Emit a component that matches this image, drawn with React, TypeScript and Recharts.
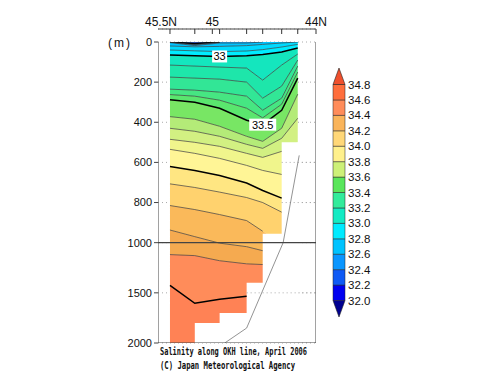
import React from "react";
import {
  ComposedChart,
  Area,
  Line,
  XAxis,
  YAxis,
  CartesianGrid,
  LabelList,
  BarChart,
  Bar,
} from "recharts";

// stations along the OKH line, km from 45.5N
const stationKm = [0, 34, 68, 105, 127, 153, 175];
// deepest observed depth (m) right of each station
const bottomDepth = [2000, 1800, 1700, 1400, 955, 500, 500];

// top axis
const latTickKm = [0, 58, 200];
const latTickLabel = ["45.5N", "45", "44N"];

// depth axis
const depthTicks = [0, 200, 400, 600, 800, 1000, 1500, 2000];
const gridDepths = [200, 400, 600, 800, 1500];

// isohaline depths (m) at each station
const levels = [
  32.4, 32.5, 32.6, 32.7, 32.8, 32.9, 33.0, 33.1, 33.2, 33.3, 33.4,
  33.5, 33.6, 33.7, 33.8, 33.9, 34.0, 34.1, 34.2, 34.3, 34.4, 34.5,
];
const s324 = [0, 5, 0, 0, 0, 0, 0];
const s325 = [0, 9, 0, 0, 0, 0, 0];
const s326 = [0, 14, 0, 0, 0, 0, 0];
const s327 = [3, 18, 5, 5, 0, 0, 0];
const s328 = [20, 24, 22, 18, 12, 5, 0];
const s329 = [40, 44, 48, 45, 38, 25, 12];
const s330 = [65, 68, 72, 68, 62, 50, 30];
const s331 = [115, 120, 125, 130, 190, 115, 60];
const s332 = [175, 180, 185, 200, 280, 220, 90];
const s333 = [235, 240, 250, 270, 340, 280, 120];
const s334 = [262, 270, 290, 330, 378, 310, 150];
const s335 = [288, 300, 330, 390, 412, 340, 180];
const s336 = [372, 385, 420, 470, 495, 430, 260];
const s337 = [430, 445, 470, 510, 530, 480, 380];
const s338 = [485, 500, 520, 555, 575, 545, 560];
const s339 = [535, 555, 580, 615, 640, 660, 620];
const s340 = [620, 640, 665, 703, 740, 778, 800];
const s341 = [707, 725, 748, 775, 800, 848, 870];
const s342 = [815, 835, 860, 890, 943, 1000, 1050];
const s343 = [937, 970, 1005, 1040, 1080, 1150, 1200];
const s344 = [1119, 1129, 1180, 1211, 1218, 1250, 1300];
const s345 = [1426, 1604, 1564, 1535, 1520, 1550, 1600];
const contourDepths = [
  s324, s325, s326, s327, s328, s329, s330, s331, s332, s333, s334,
  s335, s336, s337, s338, s339, s340, s341, s342, s343, s344, s345,
];

// labelled contours
const labelLevels = [33.0, 33.5];
const labelStations = [2, 4];

// bottom topography
const bathyKm = [75, 105, 155, 177];
const bathyDepth = [2000, 1851, 1000, 565];

// colour bar
const cbLevels = [
  32.0, 32.2, 32.4, 32.6, 32.8, 33.0, 33.2, 33.4, 33.6, 33.8, 34.0, 34.2,
  34.4, 34.6, 34.8,
];

// ---- styles ----
const bandColors = [
  "#1e50e6", "#0a78ff", "#0a96ff", "#14aaff", "#00c3ff", "#00daff",
  "#00ecff", "#14e6be", "#1ee6aa", "#32e696", "#46e682", "#5ae66e",
  "#78e664", "#b4eb78", "#d2f082", "#f0f58c", "#fff596", "#ffe682",
  "#ffd26e", "#fab95a", "#f5aa50", "#ff8c5a", "#ff8255",
];
const cbColors = [
  "#0000f0", "#0f5af5", "#0a96ff", "#00c3ff", "#00ebff", "#14ebc3",
  "#32eb9b", "#5ae65a", "#cdf078", "#fff08c", "#ffd778", "#fab45a",
  "#ff8c5a", "#ff6e3c",
];
const cbUnder = "#000090";
const cbOver = "#f0502d";
const TIP = 0.214;
const FONT = "'Liberation Sans', Arial, sans-serif";

// depth below 1000 m is drawn at half scale
const P = (d: number) => (d <= 1000 ? d : 1000 + (d - 1000) / 2);
const maxDepth = depthTicks[depthTicks.length - 1];
const xMin = -16.4;
const xMax = latTickKm[latTickKm.length - 1];

const visibleDepth = stationKm.map((_, i) =>
  Math.max(bottomDepth[i], i > 0 ? bottomDepth[i - 1] : 0)
);

const rows = stationKm.map((x, i) => {
  const row: any = { x, mask: [P(bottomDepth[i]), P(maxDepth)] };
  let prev = 0;
  contourDepths.forEach((arr, k) => {
    const d = Math.max(arr[i], prev);
    row[`b${k}`] = P(d) - P(prev);
    prev = d;
    const near =
      arr[i] > 0 ||
      (i > 0 && arr[i - 1] > 0) ||
      (i < arr.length - 1 && arr[i + 1] > 0);
    row[`c${k}`] = near && arr[i] <= visibleDepth[i] ? P(arr[i]) : null;
  });
  row[`b${contourDepths.length}`] = P(maxDepth) - P(prev);
  return row;
});

const bathyData = bathyKm.map((x, i) => ({ x, v: P(bathyDepth[i]) }));
const last = stationKm.length - 1;

// white edge where the section ends, hides the anti-aliased seam
const endEdge = [
  { x: stationKm[last], v: P(bottomDepth[last - 1]) },
  { x: stationKm[last], v: P(maxDepth) },
];

const gridSegments = gridDepths
  .map((g) => {
    const i0 = bottomDepth.findIndex((b) => b < g);
    return i0 < 0
      ? null
      : [
          { x: stationKm[i0], v: P(g) },
          { x: xMax, v: P(g) },
        ];
  })
  .filter(Boolean) as { x: number; v: number }[][];

const frameLines = [
  [{ x: xMin, v: 0 }, { x: xMin, v: P(maxDepth) }],
  [{ x: xMax, v: 0 }, { x: xMax, v: P(maxDepth) }],
  [{ x: xMin, v: P(maxDepth) }, { x: xMax, v: P(maxDepth) }],
];
const line1000 = [
  { x: xMin, v: P(1000) },
  { x: xMax, v: P(1000) },
];

const xTicks = Array.from(new Set([...stationKm, ...latTickKm])).sort(
  (a, b) => a - b
);

const TopTick = (p: any) => {
  const li = latTickKm.indexOf(p.payload.value);
  return (
    <g>
      <line x1={p.x} x2={p.x} y1={p.y} y2={p.y + 5} stroke="#333" />
      {li >= 0 && (
        <text
          x={p.x + (li === 0 ? -9 : 0)}
          y={p.y - 3}
          textAnchor="middle"
          fontSize={12}
          fontFamily={FONT}
          fill="#111"
        >
          {latTickLabel[li]}
        </text>
      )}
    </g>
  );
};

const contourLabel = (idx: number, text: string) => (p: any) => {
  if (p.index !== idx) return null;
  const w = text.length * 6 + 3;
  return (
    <g>
      <rect x={p.x - w / 2} y={p.y - 6} width={w} height={12} fill="#fff" />
      <text
        x={p.x}
        y={p.y + 4}
        textAnchor="middle"
        fontSize={11}
        fontFamily={FONT}
        fill="#000"
      >
        {text}
      </text>
    </g>
  );
};

const cbRow: any = { name: "S", base: cbLevels[0] - TIP, under: TIP, over: TIP };
cbColors.forEach((_, k) => (cbRow[`k${k}`] = cbLevels[k + 1] - cbLevels[k]));

const UpTri = (p: any) => (
  <polygon
    points={`${p.x},${p.y + p.height} ${p.x + p.width},${p.y + p.height} ${p.x + p.width / 2},${p.y}`}
    fill={p.fill}
    stroke="#222"
    strokeWidth={0.6}
  />
);
const DownTri = (p: any) => (
  <polygon
    points={`${p.x},${p.y} ${p.x + p.width},${p.y} ${p.x + p.width / 2},${p.y + p.height}`}
    fill={p.fill}
    stroke="#222"
    strokeWidth={0.6}
  />
);

const ColorBar = () => (
  <BarChart
    width={75}
    height={340}
    data={[cbRow]}
    margin={{ top: 60, right: 23, bottom: 31, left: 5 }}
    barCategoryGap={0}
  >
    <XAxis dataKey="name" hide />
    <YAxis
      orientation="right"
      width={35}
      domain={[cbLevels[0] - TIP, cbLevels[cbLevels.length - 1] + TIP]}
      allowDataOverflow
      ticks={cbLevels}
      interval={0}
      tickFormatter={(v: number) => v.toFixed(1)}
      axisLine={false}
      tickLine={false}
      tickSize={0}
      tickMargin={3}
      tick={{ fontSize: 11.5, fill: "#111", fontFamily: FONT }}
    />
    <Bar dataKey="base" stackId="cb" fill="none" isAnimationActive={false} />
    <Bar
      dataKey="under"
      stackId="cb"
      fill={cbUnder}
      shape={DownTri}
      isAnimationActive={false}
    />
    {cbColors.map((c, k) => (
      <Bar
        key={k}
        dataKey={`k${k}`}
        stackId="cb"
        fill={c}
        stroke="#222"
        strokeWidth={0.5}
        isAnimationActive={false}
      />
    ))}
    <Bar
      dataKey="over"
      stackId="cb"
      fill={cbOver}
      shape={UpTri}
      isAnimationActive={false}
    />
  </BarChart>
);

export default function App() {
  return (
    <div style={{ position: "relative", width: 484, height: 371, fontFamily: FONT }}>
      <ComposedChart
        width={320}
        height={340}
        data={rows}
        margin={{ top: 5, right: 12, bottom: 5, left: 0 }}
      >
        <CartesianGrid
          vertical={false}
          stroke="#aaa"
          strokeDasharray="1 3"
        />
        {bandColors.map((c, k) => (
          <Area
            key={`b${k}`}
            type="linear"
            dataKey={`b${k}`}
            stackId="sal"
            fill={c}
            fillOpacity={1}
            stroke={c}
            strokeWidth={0.5}
            activeDot={false}
            isAnimationActive={false}
          />
        ))}
        <Area
          type="stepAfter"
          dataKey="mask"
          fill="#fff"
          fillOpacity={1}
          stroke="none"
          activeDot={false}
          isAnimationActive={false}
        />
        <Line
          data={endEdge}
          dataKey="v"
          stroke="#fff"
          strokeWidth={2}
          dot={false}
          activeDot={false}
          isAnimationActive={false}
        />
        {gridSegments.map((seg, k) => (
          <Line
            key={`g${k}`}
            data={seg}
            dataKey="v"
            stroke="#aaa"
            strokeDasharray="1 3"
            strokeWidth={1}
            dot={false}
            activeDot={false}
            isAnimationActive={false}
          />
        ))}
        {levels.map((lv, k) => {
          const bold = Math.round(lv * 10) % 5 === 0;
          const li = labelLevels.indexOf(lv);
          return (
            <Line
              key={`c${k}`}
              type="linear"
              dataKey={`c${k}`}
              stroke={bold ? "#000" : "#3c3c3c"}
              strokeWidth={bold ? 1.5 : 0.7}
              dot={false}
              activeDot={false}
              isAnimationActive={false}
            >
              {li >= 0 && (
                <LabelList
                  dataKey={`c${k}`}
                  content={contourLabel(
                    labelStations[li],
                    lv % 1 === 0 ? lv.toFixed(0) : lv.toFixed(1)
                  )}
                />
              )}
            </Line>
          );
        })}
        <Line
          data={bathyData}
          dataKey="v"
          stroke="#777"
          strokeWidth={0.8}
          dot={false}
          activeDot={false}
          isAnimationActive={false}
        />
        {frameLines.map((seg, k) => (
          <Line
            key={`f${k}`}
            data={seg}
            dataKey="v"
            stroke="#444"
            strokeWidth={1}
            dot={false}
            activeDot={false}
            isAnimationActive={false}
          />
        ))}
        <Line
          data={line1000}
          dataKey="v"
          stroke="#444"
          strokeWidth={1.2}
          dot={false}
          activeDot={false}
          isAnimationActive={false}
        />
        <XAxis
          type="number"
          dataKey="x"
          orientation="top"
          height={16}
          domain={[xMin, xMax]}
          allowDataOverflow
          ticks={xTicks}
          interval={0}
          tickSize={0}
          tickMargin={0}
          tickLine={false}
          axisLine={{ stroke: "#444" }}
          tick={<TopTick />}
        />
        <YAxis
          type="number"
          width={150}
          reversed
          domain={[0, P(maxDepth)]}
          allowDataOverflow
          padding={{ top: 13, bottom: 0 }}
          ticks={depthTicks.map(P)}
          interval={0}
          tickFormatter={(v: number) => String(depthTicks[depthTicks.map(P).indexOf(v)])}
          axisLine={false}
          tickLine={{ stroke: "#444" }}
          tickSize={4}
          tickMargin={2}
          tick={{ fontSize: 11, fill: "#111", fontFamily: FONT }}
        />
      </ComposedChart>
      <div style={{ position: "absolute", left: 320, top: 0 }}>
        <ColorBar />
      </div>
      <svg
        width={484}
        height={371}
        style={{ position: "absolute", left: 0, top: 0, pointerEvents: "none" }}
      >
        <text x={112} y={38.5} textAnchor="middle" fontSize={12} letterSpacing={2} fill="#111" fontFamily={FONT}>
          (m)
        </text>
        <text
          x={152}
          y={346.5}
          fontSize={10}
          fontWeight="bold"
          fontFamily="'DejaVu Sans Mono', monospace"
          textLength={147}
          lengthAdjust="spacingAndGlyphs"
          fill="#111"
        >
          Salinity along OKH line, April 2006
        </text>
        <text
          x={152}
          y={361}
          fontSize={10}
          fontWeight="bold"
          fontFamily="'DejaVu Sans Mono', monospace"
          textLength={135}
          lengthAdjust="spacingAndGlyphs"
          fill="#111"
        >
          (C) Japan Meteorological Agency
        </text>
      </svg>
    </div>
  );
}
